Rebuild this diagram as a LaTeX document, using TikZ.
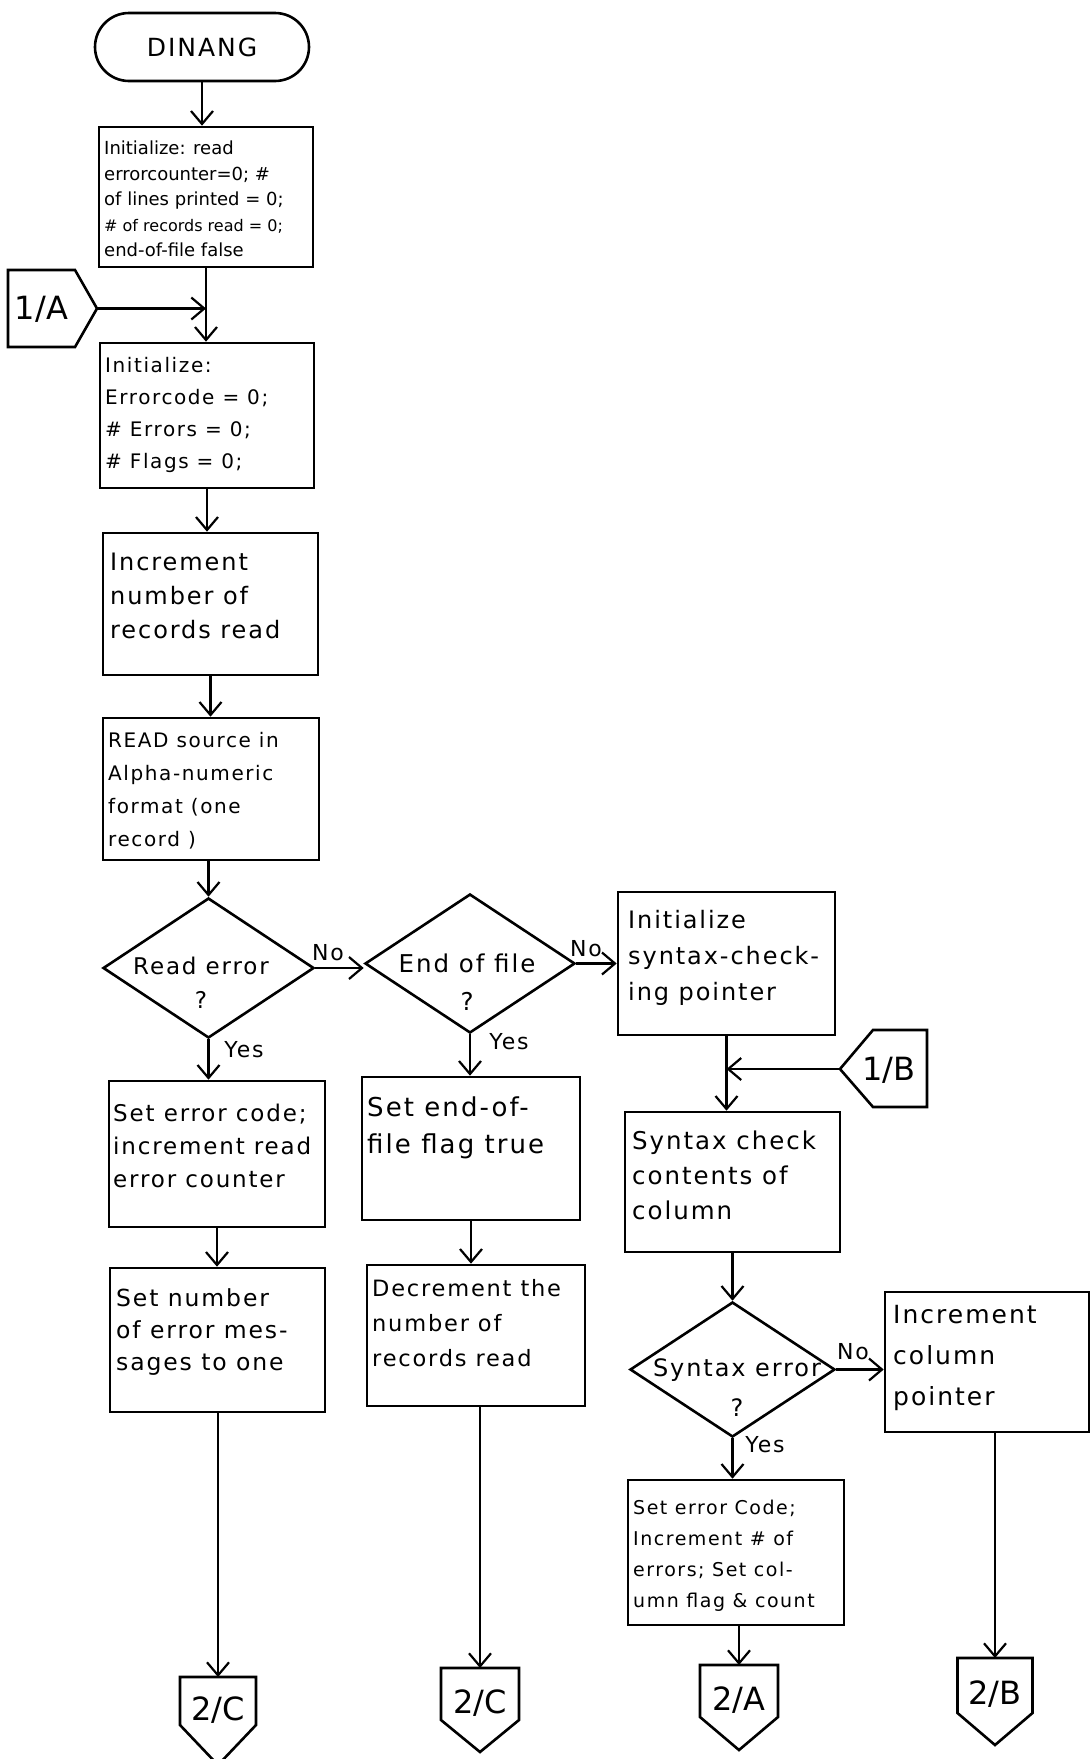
\documentclass[tikz,border=0pt]{standalone}
\usepackage{fontspec}
\usetikzlibrary{arrows.meta,shapes.geometric,calc}
\newfontfamily\hand[LetterSpace=8]{DejaVu Sans}
\newfontfamily\handtight{DejaVu Sans}
\newcommand{\hfs}[2]{\hand\fontsize{#1}{#2}\selectfont}
% box from its corners: name, x1, y1, x2, y2
\newcommand{\boxnode}[5]{\node[box, minimum width={#4-#2}, minimum height={#5-#3}] (#1) at ({(#2+#4)/2},{(#3+#5)/2}) {};}
\newcommand{\decnode}[5]{\node[decision, minimum width={#4-#2}, minimum height={#5-#3}] (#1) at ({(#2+#4)/2},{(#3+#5)/2}) {};}
% off-page connector pointing down: name, cx, top, half width, shoulder y, tip y, label
\newcommand{\pagedown}[7]{%
  \draw[conn] (#2-#4,#5) -- (#2-#4,#3) -- (#2+#4,#3) -- (#2+#4,#5) -- (#2,#6) -- cycle;
  \coordinate (#1) at (#2,#3);
  \node[conntxt] (#1 label) at (#2,{(#3+#5)/2+9}) {#7};}

\begin{document}
\begin{tikzpicture}[x=1pt,y=-1pt,
  box/.style={draw, line width=2.6pt, rectangle, inner sep=0pt},
  decision/.style={draw, line width=2.6pt, diamond, inner sep=0pt},
  terminal/.style={draw, line width=2.6pt, rectangle, rounded corners=34pt, inner sep=0pt},
  txt/.style={inner sep=0pt, align=left, anchor=north west},
  dtxt/.style={inner sep=0pt, align=center},
  lbl/.style={inner sep=0pt, font=\hfs{22}{26}},
  conntxt/.style={inner sep=0pt, font={\handtight\fontsize{32}{36}\selectfont}},
  conn/.style={line width=2.6pt, line join=miter},
  arr/.style={line width=2.2pt, -{Straight Barb[length=13pt,width=22pt]}},
  link/.style={line width=2.2pt},
]
\useasboundingbox[fill=white] (0,0) rectangle (1092,1759);

% ---- main column ----
\node[terminal, minimum width=214, minimum height=68, font=\hfs{25}{30}] (start) at (202,47) {DINANG};

\boxnode{b1}{99}{127}{313}{267}
\node[txt, font={\handtight\fontsize{18}{25.5}\selectfont}] (b1t) at (104,141) {Initialize: read\\errorcounter=0; \#\\of lines printed = 0;\\{\fontsize{16}{25.5}\selectfont\# of records read = 0;}\\end-of-file false};

\boxnode{b2}{100}{343}{314}{488}
\node[txt, font=\hfs{20}{32}] (b2t) at (105,357) {Initialize:\\Errorcode = 0;\\\# Errors = 0;\\\# Flags = 0;};

\boxnode{b3}{103}{533}{318}{675}
\node[txt, font=\hfs{24}{34}] (b3t) at (110,553) {Increment\\number of\\records read};

\boxnode{b4}{103}{718}{319}{860}
\node[txt, font=\hfs{20}{33}] (b4t) at (108,732) {READ source in\\Alpha-numeric\\format (one\\record )};

\decnode{d1}{103}{898}{314}{1038}
\node[dtxt, font=\hfs{23}{34}] (d1t) at (201,983) {Read error\\?};

\decnode{d2}{365}{894}{575}{1033}
\node[dtxt, font=\hfs{24.5}{38}] (d2t) at (467,982) {End of file\\?};

\boxnode{b5}{618}{892}{835}{1035}
\node[txt, font=\hfs{24}{36}] (b5t) at (628,910) {Initialize\\syntax-check-\\ing pointer};

% ---- left branch ----
\boxnode{b6}{109}{1081}{325}{1227}
\node[txt, font=\hfs{23}{33}] (b6t) at (113,1104) {Set error code;\\increment read\\error counter};

\boxnode{b8}{110}{1268}{325}{1412}
\node[txt, font=\hfs{23.5}{32}] (b8t) at (116,1288) {Set number\\of error mes-\\sages to one};

% ---- middle branch ----
\boxnode{b7}{362}{1077}{580}{1220}
\node[txt, font=\hfs{26}{37}] (b7t) at (367,1097) {Set end-of-\\file flag true};

\boxnode{b9}{367}{1265}{585}{1406}
\node[txt, font=\hfs{22.5}{35}] (b9t) at (372,1279) {Decrement the\\number of\\records read};

% ---- right branch ----
\boxnode{b10}{625}{1112}{840}{1252}
\node[txt, font=\hfs{24.5}{35}] (b10t) at (632,1131) {Syntax check\\contents of\\column};

\decnode{d3}{630}{1302}{835}{1437}
\node[dtxt, font=\hfs{24}{40}] (d3t) at (737,1388) {Syntax error\\?};

\boxnode{b11}{885}{1292}{1089}{1432}
\node[txt, font=\hfs{25}{41}] (b11t) at (893,1305) {Increment\\column\\pointer};

\boxnode{b12}{628}{1480}{844}{1625}
\node[txt, font=\hfs{19}{31}] (b12t) at (633,1500) {Set error Code;\\Increment \# of\\errors; Set col-\\umn flag \& count};

% ---- on-page connectors ----
\draw[conn] (75,270) -- (8,270) -- (8,347) -- (75,347) -- (97,308.5) -- cycle;
\node[conntxt] (c1a) at (41.5,309) {1/A};
\coordinate (c1a tip) at (97,308.5);

\draw[conn] (873,1030) -- (927,1030) -- (927,1107) -- (873,1107) -- (840,1069) -- cycle;
\node[conntxt] (c1b) at (889,1070) {1/B};
\coordinate (c1b tip) at (840,1069);

% ---- off-page connectors ----
\pagedown{c2c1}{218}{1677}{38}{1725}{1765}{2/C}
\pagedown{c2c2}{480}{1668}{39}{1720}{1752}{2/C}
\pagedown{c2a}{739}{1665}{39}{1717}{1750}{2/A}
\pagedown{c2b}{995}{1658}{37.5}{1713}{1745}{2/B}

% ---- flow lines ----
\draw[arr] (start.south) -- (start.south |- b1.north);
\draw[arr] (b1.south) -- (b1.south |- b2.north);
\draw[arr] (c1a tip) -- (c1a tip -| b1.south);
\draw[arr] (b2.south) -- (b2.south |- b3.north);
\draw[arr] (b3.south) -- (b3.south |- b4.north);
\draw[arr] (d1.north |- b4.south) -- (d1.north);

\draw[arr] (d1.east) -- (d1.east -| d2.west);
\node[lbl] (no1) at (328,953) {No};
\draw[arr] (d2.east) -- (d2.east -| b5.west);
\node[lbl] (no2) at (586,949) {No};

\draw[arr] (d1.south) -- (d1.south |- b6.north);
\node[lbl] (yes1) at (244,1050) {Yes};
\draw[arr] (b6.south) -- (b6.south |- b8.north);
\draw[arr] (b8.south -| c2c1) -- (c2c1);

\draw[arr] (d2.south) -- (d2.south |- b7.north);
\node[lbl] (yes2) at (509,1042) {Yes};
\draw[arr] (b7.south) -- (b7.south |- b9.north);
\draw[arr] (b9.south -| c2c2) -- (c2c2);

\draw[arr] (b5.south) -- (b5.south |- b10.north);
\draw[arr] (c1b tip) -- (c1b tip -| b5.south);
\draw[arr] (d3.north |- b10.south) -- (d3.north);
\draw[arr] (d3.east) -- (d3.east -| b11.west);
\node[lbl] (no3) at (853,1352) {No};
\draw[arr] (d3.south) -- (d3.south |- b12.north);
\node[lbl] (yes3) at (765,1445) {Yes};
\draw[arr] (b12.south -| c2a) -- (c2a);
\draw[arr] (b11.south -| c2b) -- (c2b);
\end{tikzpicture}
\end{document}
